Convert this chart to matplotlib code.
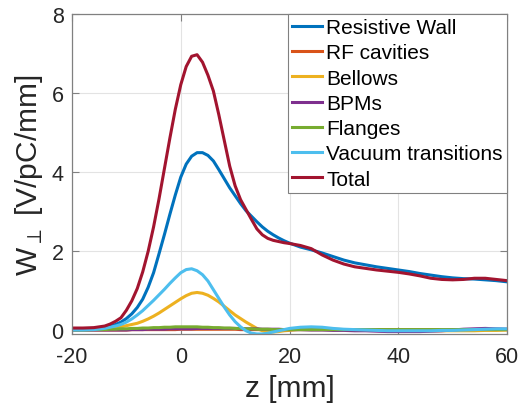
import matplotlib
matplotlib.use("Agg")
import matplotlib.pyplot as plt

plt.rcParams['font.family'] = ['Liberation Sans', 'DejaVu Sans']
plt.rcParams['mathtext.fontset'] = 'dejavusans'
plt.rcParams['axes.unicode_minus'] = False

# z grid [mm]: -20,-18,-16, then -14..20 by 1, then 22..60 by 2
z = [-20, -18, -16,
     -14, -13, -12, -11, -10, -9, -8, -7, -6, -5, -4, -3, -2, -1,
     0, 1, 2, 3, 4, 5, 6, 7, 8, 9, 10, 11, 12, 13, 14, 15, 16, 17, 18, 19, 20,
     22, 24, 26, 28, 30, 32, 34, 36, 38, 40, 42, 44, 46, 48, 50, 52, 54, 56, 58, 60]

# wake values [V/pC/mm]
resistive_wall = [0.03, 0.03, 0.04,
                  0.07, 0.10, 0.14, 0.20, 0.29, 0.41, 0.57, 0.78, 1.08, 1.45, 1.93, 2.42, 2.93, 3.42,
                  3.87, 4.20, 4.40, 4.49, 4.49, 4.42, 4.28, 4.06, 3.83, 3.60, 3.40, 3.20, 3.02, 2.88,
                  2.74, 2.61, 2.50, 2.41, 2.33, 2.26, 2.20,
                  2.10, 2.03, 1.95, 1.86, 1.77, 1.70, 1.65, 1.60, 1.56, 1.52, 1.48, 1.43, 1.39, 1.35,
                  1.32, 1.30, 1.29, 1.27, 1.25, 1.22]
rf_cavities = [0.0, 0.0, 0.0,
               0.0, 0.0, 0.0, 0.0, 0.0, 0.01, 0.01, 0.01, 0.01, 0.01, 0.01, 0.01, 0.01, 0.01,
               0.02, 0.02, 0.02, 0.02, 0.02, 0.02, 0.02, 0.02, 0.02, 0.02, 0.02, 0.01, 0.01, 0.01,
               0.01, 0.01, 0.01, 0.01, 0.01, 0.01, 0.01,
               0.01, 0.01, 0.01, 0.01, 0.01, 0.01, 0.01, 0.01, 0.01, 0.01, 0.01, 0.01, 0.01, 0.01,
               0.01, 0.01, 0.01, 0.01, 0.01, 0.01]
bellows = [0.0, 0.0, 0.01,
           0.03, 0.04, 0.06, 0.08, 0.11, 0.14, 0.17, 0.22, 0.28, 0.35, 0.43, 0.52, 0.61, 0.70,
           0.79, 0.87, 0.93, 0.95, 0.93, 0.88, 0.80, 0.71, 0.60, 0.49, 0.38, 0.29, 0.20, 0.12,
           0.04, -0.02, -0.04, -0.05, -0.04, -0.02, -0.01,
           0.02, 0.03, 0.03, 0.02, 0.01, 0.0, 0.0, -0.01, -0.01, -0.01, -0.02, -0.02, -0.02, -0.02,
           -0.02, -0.02, -0.02, -0.01, -0.01, 0.0]
bpms = [0.0, 0.0, 0.0,
        0.0, 0.0, 0.0, 0.0, 0.0, 0.01, 0.01, 0.01, 0.02, 0.02, 0.02, 0.02, 0.03, 0.03,
        0.03, 0.03, 0.03, 0.04, 0.04, 0.04, 0.04, 0.04, 0.04, 0.04, 0.04, 0.03, 0.03, 0.03,
        0.03, 0.02, 0.02, 0.02, 0.02, 0.01, 0.01,
        0.01, 0.0, 0.0, -0.01, -0.01, -0.02, -0.02, -0.03, -0.04, -0.04, -0.04, -0.04, -0.03, -0.02,
        0.0, 0.02, 0.03, 0.04, 0.03, 0.02]
flanges = [0.0, 0.0, 0.01,
           0.01, 0.02, 0.02, 0.03, 0.03, 0.04, 0.04, 0.05, 0.05, 0.06, 0.06, 0.07, 0.07, 0.08,
           0.08, 0.08, 0.08, 0.08, 0.07, 0.07, 0.06, 0.06, 0.05, 0.05, 0.04, 0.04, 0.03, 0.03,
           0.02, 0.02, 0.02, 0.01, 0.01, 0.01, 0.01,
           0.01, 0.01, 0.01, 0.01, 0.01, 0.01, 0.01, 0.01, 0.01, 0.01, 0.01, 0.01, 0.01, 0.01,
           0.01, 0.01, 0.01, 0.01, 0.01, 0.01]
vacuum = [0.0, 0.0, 0.01,
          0.04, 0.07, 0.10, 0.14, 0.20, 0.28, 0.38, 0.49, 0.62, 0.75, 0.89, 1.03, 1.18, 1.32,
          1.45, 1.53, 1.55, 1.50, 1.40, 1.24, 1.02, 0.80, 0.58, 0.38, 0.21, 0.08, -0.02, -0.08,
          -0.10, -0.10, -0.08, -0.05, -0.02, 0.01, 0.04,
          0.07, 0.08, 0.07, 0.04, 0.02, 0.01, 0.0, -0.01, -0.02, -0.02, -0.02, -0.02, -0.02, -0.01,
          -0.01, 0.0, 0.01, 0.02, 0.03, 0.03]
total = [0.05, 0.05, 0.06,
         0.10, 0.15, 0.22, 0.31, 0.50, 0.74, 1.05, 1.47, 1.99, 2.61, 3.32, 4.09, 4.86, 5.59,
         6.21, 6.67, 6.93, 6.97, 6.78, 6.45, 6.05, 5.45, 4.80, 4.15, 3.65, 3.30, 3.05, 2.80,
         2.56, 2.41, 2.32, 2.27, 2.24, 2.21, 2.19,
         2.14, 2.06, 1.90, 1.77, 1.67, 1.60, 1.56, 1.52, 1.49, 1.46, 1.42, 1.37, 1.31, 1.28,
         1.27, 1.28, 1.31, 1.31, 1.28, 1.25]

series = [
    ("Resistive Wall", resistive_wall, '#0072BD'),
    ("RF cavities", rf_cavities, '#D95319'),
    ("Bellows", bellows, '#EDB120'),
    ("BPMs", bpms, '#7E2F8E'),
    ("Flanges", flanges, '#77AC30'),
    ("Vacuum transitions", vacuum, '#4DBEEE'),
    ("Total", total, '#A2142F'),
]
for name, vals, _ in series:
    assert len(vals) == len(z), name

fig = plt.figure(figsize=(5.2, 4.06), dpi=100)
ax = fig.add_axes([0.1385, 0.175, 0.8365, 0.788])

for name, vals, col in series:
    ax.plot(z, vals, color=col, lw=2.2, label=name)

ax.set_xlim(-20, 60)
ax.set_ylim(-0.1, 8)
ax.set_xticks([-20, 0, 20, 40, 60])
ax.set_yticks([0, 2, 4, 6, 8])
ax.grid(True, color='#e3e3e3', lw=0.8)
ax.set_axisbelow(True)
for s in ax.spines.values():
    s.set_color('#808080')
    s.set_linewidth(0.9)
ax.tick_params(direction='in', top=True, right=True, length=5, width=0.8,
               color='#808080', labelsize=15.5, labelcolor='#262626')
ax.tick_params(axis='x', pad=9)
ax.tick_params(axis='y', pad=6)

ax.set_xlabel('z [mm]', fontsize=21.5, color='#262626', labelpad=5)
ax.set_ylabel(r'W$_{\perp}$ [V/pC/mm]', fontsize=21.5, color='#262626', labelpad=5)

leg = ax.legend(loc='upper right', fontsize=15, borderaxespad=0, fancybox=False,
                framealpha=1, edgecolor='#808080', handlelength=1.45, handletextpad=0.2,
                labelspacing=0.3, borderpad=0.2)
leg.get_frame().set_linewidth(0.8)

fig.savefig('out.png', dpi=100)
